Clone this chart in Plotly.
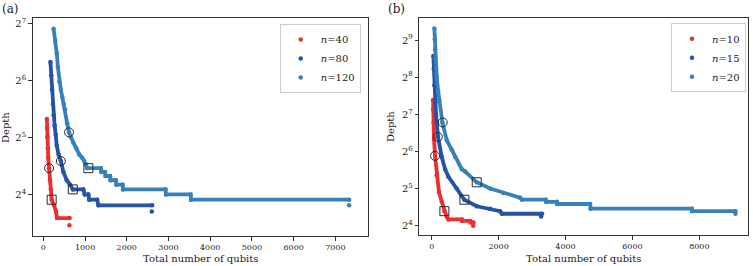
import plotly.graph_objects as go

# ---------------- data: panel (a) ----------------
a_names = ["<i>n</i>=40", "<i>n</i>=80", "<i>n</i>=120"]
a40_qubits = [85, 90, 97, 106, 118, 137, 160, 180, 200, 257, 305, 330, 630, 625]
a40_depth = [40, 36, 32, 28, 25, 22, 19, 17, 15, 14, 13, 12, 12, 11]
a80_qubits = [170, 190, 210, 228, 245, 270, 297, 321, 365, 420, 480, 561, 640, 710, 960,
              990, 1080, 1100, 1290, 1320, 2610, 2600]
a80_depth = [80, 68, 57, 48, 42, 37, 33, 29, 26, 24, 21, 19, 18, 17, 17,
             16, 16, 15, 15, 14, 14, 13]
a120_qubits = [245, 285, 321, 350, 384, 420, 456, 490, 520, 570, 616, 660, 720, 790, 860,
               930, 980, 1020, 1050, 1380, 1390, 1480, 1490, 1600, 1610, 1740, 1750, 1900,
               1910, 2930, 2940, 3530, 3540, 7330, 7330]
a120_depth = [120, 104, 89, 75, 63, 57, 52, 48, 45, 38, 34, 32, 30, 28, 26,
              25, 24, 23, 22, 22, 21, 21, 20, 20, 19, 19, 18, 18,
              17, 17, 16, 16, 15, 15, 14]
a_circle_qubits = [137, 420, 616]
a_circle_depth = [22, 24, 34]
a_square_qubits = [200, 705, 1080]
a_square_depth = [15, 17, 22]

# ---------------- data: panel (b) ----------------
b_names = ["<i>n</i>=10", "<i>n</i>=15", "<i>n</i>=20"]
b10_qubits = [40, 45, 55, 70, 100, 149, 218, 300, 379, 450, 500, 900, 910, 1150, 1160, 1250, 1240]
b10_depth = [167, 140, 110, 80, 59, 41, 30, 25, 21, 19, 18, 18, 17.5, 17.5, 17, 17, 16]
b15_qubits = [50, 60, 80, 110, 150, 190, 299, 400, 498, 748, 977, 1346, 1745, 2044, 2100,
              3300, 3270]
b15_depth = [380, 300, 220, 160, 110, 84, 58, 46, 40, 32, 26, 23, 22, 21, 20,
             20, 19]
b20_qubits = [80, 90, 100, 115, 130, 150, 190, 229, 319, 449, 600, 698, 900, 1000, 1346,
              1745, 2144, 2642, 2700, 3410, 3420, 3740, 3750, 4736, 4750, 7777, 7790,
              9080, 9080]
b20_depth = [635, 520, 430, 360, 300, 258, 200, 167, 110, 79, 66, 58, 46, 44, 36,
             32, 29.5, 27, 26, 26, 25, 25, 24, 24, 22, 22, 21,
             21, 20]
b_circle_qubits = [100, 185, 330]
b_circle_depth = [59, 84, 110]
b_square_qubits = [379, 977, 1346]
b_square_depth = [21, 26, 36]

a_xticks = [0, 1000, 2000, 3000, 4000, 5000, 6000, 7000]
b_xticks = [0, 2000, 4000, 6000, 8000]
a_yticks = [16, 32, 64, 128]
a_yticktext = ["2<sup>4</sup>", "2<sup>5</sup>", "2<sup>6</sup>", "2<sup>7</sup>"]
b_yticks = [16, 32, 64, 128, 256, 512]
b_yticktext = ["2<sup>4</sup>", "2<sup>5</sup>", "2<sup>6</sup>", "2<sup>7</sup>",
               "2<sup>8</sup>", "2<sup>9</sup>"]

colors = ["#ee2e2e", "#2653a6", "#3681ba"]
FONT = "DejaVu Serif"
W, H = 753, 266

fig = go.Figure()


def add_series(xs, ys, color, name, xa, ya, legend):
    fig.add_trace(go.Scatter(x=xs[:-1], y=ys[:-1], mode="lines",
                             line=dict(color=color, width=3.8),
                             showlegend=False, xaxis=xa, yaxis=ya, hoverinfo="skip"))
    fig.add_trace(go.Scatter(x=xs, y=ys, mode="markers",
                             marker=dict(color=color, size=4.5),
                             name=name, xaxis=xa, yaxis=ya, legend=legend))


for xs, ys, c, nm in zip([a40_qubits, a80_qubits, a120_qubits],
                         [a40_depth, a80_depth, a120_depth], colors, a_names):
    add_series(xs, ys, c, nm, "x", "y", "legend")
for xs, ys, c, nm in zip([b10_qubits, b15_qubits, b20_qubits],
                         [b10_depth, b15_depth, b20_depth], colors, b_names):
    add_series(xs, ys, c, nm, "x2", "y2", "legend2")


def add_marks(qs, ds, symbol, xa, ya):
    fig.add_trace(go.Scatter(x=qs, y=ds, mode="markers", showlegend=False,
                             xaxis=xa, yaxis=ya, hoverinfo="skip",
                             marker=dict(symbol=symbol, size=9, color="#2a2a2a",
                                         line=dict(color="#2a2a2a", width=1))))


add_marks(a_circle_qubits, a_circle_depth, "circle-open", "x", "y")
add_marks(a_square_qubits, a_square_depth, "square-open", "x", "y")
add_marks(b_circle_qubits, b_circle_depth, "circle-open", "x2", "y2")
add_marks(b_square_qubits, b_square_depth, "square-open", "x2", "y2")

axis_common = dict(showline=True, mirror=True, linecolor="#333333", linewidth=1,
                   ticks="outside", ticklen=3.5, tickwidth=0.8, tickcolor="#333333",
                   showgrid=False, zeroline=False)

fig.update_layout(
    width=W, height=H,
    margin=dict(l=0, r=0, t=0, b=0, autoexpand=False),
    paper_bgcolor="white", plot_bgcolor="white",
    font=dict(family=FONT, color="#222222"),
    xaxis=dict(domain=[32.7 / W, 368 / W], range=[-255, 7783], anchor="y",
               tickvals=a_xticks, tickfont=dict(size=8), **axis_common),
    yaxis=dict(domain=[(H - 236) / H, (H - 18.3) / H], type="log",
               range=[0.9844, 2.1337], anchor="x",
               tickvals=a_yticks, ticktext=a_yticktext, tickfont=dict(size=10),
               **axis_common),
    xaxis2=dict(domain=[419.3 / W, 747.7 / W], range=[-371, 9447], anchor="y2",
                tickvals=b_xticks, tickfont=dict(size=8), **axis_common),
    yaxis2=dict(domain=[(H - 235) / H, (H - 18.3) / H], type="log",
                range=[1.1289, 2.8854], anchor="x2",
                tickvals=b_yticks, ticktext=b_yticktext, tickfont=dict(size=10),
                **axis_common),
    legend=dict(x=360.7 / W, xanchor="right", y=(H - 24) / H, yanchor="top",
                bgcolor="white", bordercolor="#cccccc", borderwidth=1,
                font=dict(size=10, family=FONT)),
    legend2=dict(x=746 / W, xanchor="right", y=(H - 23.3) / H, yanchor="top",
                 bgcolor="white", bordercolor="#cccccc", borderwidth=1,
                 font=dict(size=10, family=FONT)),
    annotations=[
        dict(text="(a)", x=0, y=(H - 9) / H, xref="paper", yref="paper",
             xanchor="left", yanchor="middle", showarrow=False, font=dict(size=12)),
        dict(text="(b)", x=386 / W, y=(H - 9) / H, xref="paper", yref="paper",
             xanchor="left", yanchor="middle", showarrow=False, font=dict(size=12)),
        dict(text="Total number of qubits", x=200 / W, y=(H - 258) / H,
             xref="paper", yref="paper", xanchor="center", yanchor="middle",
             showarrow=False, font=dict(size=10)),
        dict(text="Total number of qubits", x=583.5 / W, y=(H - 258) / H,
             xref="paper", yref="paper", xanchor="center", yanchor="middle",
             showarrow=False, font=dict(size=10)),
        dict(text="Depth", x=5 / W, y=(H - 128) / H, xref="paper", yref="paper",
             xanchor="center", yanchor="middle", textangle=-90,
             showarrow=False, font=dict(size=10)),
        dict(text="Depth", x=391 / W, y=(H - 127) / H, xref="paper", yref="paper",
             xanchor="center", yanchor="middle", textangle=-90,
             showarrow=False, font=dict(size=10)),
    ],
)

fig.write_html("out.html",
               config={"displayModeBar": False},
               post_script="document.body.style.margin='0px';"
                           "document.body.style.overflow='hidden';")
